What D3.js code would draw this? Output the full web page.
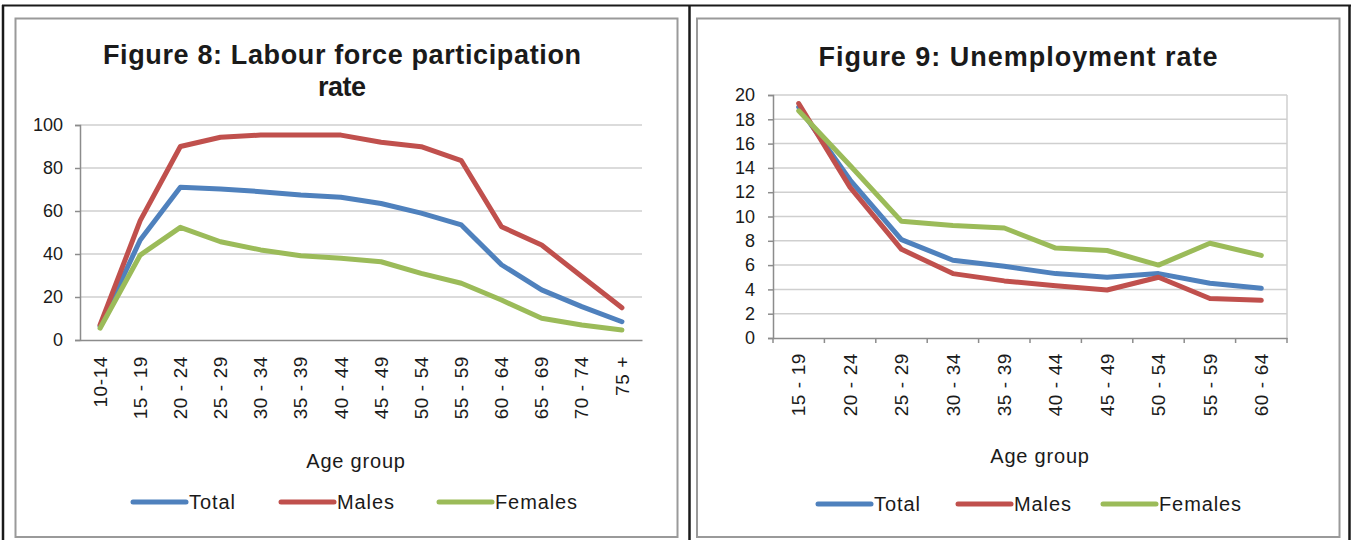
<!DOCTYPE html>
<html>
<head>
<meta charset="utf-8">
<script src="https://cdn.jsdelivr.net/npm/d3@7"></script>
<style>
  body { margin: 0; background: #fff; }
  svg text { font-family: "Liberation Sans", Arial, sans-serif; fill: #1a1a1a; }
</style>
</head>
<body>
<svg id="chart" width="1351" height="540"></svg>
<script>
// ---- data ----
var ageGroups8 = ["10-14", "15 - 19", "20 - 24", "25 - 29", "30 - 34", "35 - 39", "40 - 44",
                  "45 - 49", "50 - 54", "55 - 59", "60 - 64", "65 - 69", "70 - 74", "75 +"];
var lfprTotal   = [6.5, 46.5, 71, 70.2, 69, 67.4, 66.4, 63.5, 59, 53.5, 35, 23.3, 15.5, 8.5];
var lfprMales   = [7, 55.5, 90, 94.3, 95.3, 95.3, 95.3, 92, 89.9, 83.4, 52.7, 44.2, 29.5, 15];
var lfprFemales = [5.5, 39.5, 52.4, 45.7, 41.9, 39.2, 38, 36.4, 31, 26.4, 18.6, 10.1, 7, 4.7];

var ageGroups9 = ["15 - 19", "20 - 24", "25 - 29", "30 - 34", "35 - 39",
                  "40 - 44", "45 - 49", "50 - 54", "55 - 59", "60 - 64"];
var unempTotal   = [19.0, 13.0, 8.1, 6.4, 5.9, 5.3, 5.0, 5.3, 4.5, 4.1];
var unempMales   = [19.3, 12.4, 7.3, 5.3, 4.7, 4.3, 3.95, 5.0, 3.25, 3.1];
var unempFemales = [18.7, 14.2, 9.6, 9.25, 9.05, 7.4, 7.2, 6.0, 7.8, 6.8];

var yTicks8 = [0, 20, 40, 60, 80, 100];
var yTicks9 = [0, 2, 4, 6, 8, 10, 12, 14, 16, 18, 20];

var seriesNames = ["Total", "Males", "Females"];
var seriesColors = ["#4F81BD", "#C0504D", "#9BBB59"];

var svg = d3.select("#chart");

// ---- frames: black outer lines and grey chart areas ----
var frame = svg.append("g");
frame.append("line").attr("x1", 2).attr("x2", 1351).attr("y1", 5.5).attr("y2", 5.5)
  .attr("stroke", "#1a1a1a").attr("stroke-width", 2);
[3, 689.5, 1349.5].forEach(function(x){
  frame.append("line").attr("x1", x).attr("x2", x).attr("y1", 5).attr("y2", 540)
    .attr("stroke", "#1a1a1a").attr("stroke-width", 2.5);
});
[[15.5, 677.5], [697, 1339.5]].forEach(function(r){
  frame.append("rect").attr("x", r[0]).attr("y", 18.5)
    .attr("width", r[1]-r[0]).attr("height", 537-18.5)
    .attr("fill", "none").attr("stroke", "#9a9a9a").attr("stroke-width", 2);
});

/////////////////////////////////////////////
// one line chart panel
function drawPanel(cfg){
  var g = svg.append("g");

  var x = d3.scaleBand().domain(cfg.categories).range(cfg.xRange);
  var y = d3.scaleLinear().domain(cfg.yDomain).range(cfg.yRange);

  // gridlines
  g.append("g").selectAll("line").data(cfg.yTicks.slice(1)).join("line")
    .attr("x1", cfg.xRange[0]).attr("x2", cfg.xRange[1])
    .attr("y1", function(d){return y(d);}).attr("y2", function(d){return y(d);})
    .attr("stroke", "#cfcfcf").attr("stroke-width", 1.5);

  if (cfg.rightBorder) {
    g.append("line").attr("x1", cfg.xRange[1]).attr("x2", cfg.xRange[1])
      .attr("y1", cfg.yRange[1]).attr("y2", cfg.yRange[0])
      .attr("stroke", "#cfcfcf").attr("stroke-width", 1.5);
  }

  // y axis
  var yAxis = d3.axisLeft(y).tickValues(cfg.yTicks).tickSize(5).tickPadding(cfg.yPad)
    .tickFormat(d3.format("d"));
  var ya = g.append("g").attr("transform", "translate(" + cfg.xRange[0] + ",0)").call(yAxis);
  ya.select(".domain").attr("stroke", "#8c8c8c").attr("stroke-width", 1.5);
  ya.selectAll(".tick line").attr("stroke", "#8c8c8c").attr("stroke-width", 1.5);
  ya.selectAll(".tick text").style("font-size", "18px").attr("fill", "#1a1a1a");

  // x axis
  var xAxis = d3.axisBottom(x).tickSize(0).tickSizeOuter(0).tickPadding(0);
  var xa = g.append("g").attr("transform", "translate(0," + cfg.yRange[0] + ")").call(xAxis);
  xa.select(".domain").attr("stroke", "#8c8c8c").attr("stroke-width", 1.5);
  xa.selectAll(".tick text")
    .style("font-size", "19px").style("letter-spacing", "0.6px").attr("fill", "#1a1a1a")
    .attr("text-anchor", "end")
    .attr("transform", "rotate(-90)")
    .attr("x", -cfg.xLabelGap).attr("y", 0).attr("dy", "0.35em");

  if (cfg.xTicks) {
    var edges = cfg.categories.map(function(c){return x(c);}).concat([cfg.xRange[1]]);
    g.append("g").selectAll("line").data(edges).join("line")
      .attr("x1", function(d){return d;}).attr("x2", function(d){return d;})
      .attr("y1", cfg.yRange[0]).attr("y2", cfg.yRange[0] + 5)
      .attr("stroke", "#8c8c8c").attr("stroke-width", 1.5);
  }

  // lines
  var line = d3.line()
    .x(function(d, i){return x(cfg.categories[i]) + x.bandwidth()/2;})
    .y(function(d){return y(d);});
  cfg.series.forEach(function(s, i){
    g.append("path").datum(s)
      .attr("d", line)
      .attr("fill", "none")
      .attr("stroke", seriesColors[i])
      .attr("stroke-width", 5)
      .attr("stroke-linejoin", "round")
      .attr("stroke-linecap", "round");
  });

  // title, one text per line so each can be fitted to the reference width
  cfg.title.forEach(function(s, i){
    g.append("text").attr("x", cfg.titleX).attr("y", cfg.titleY + i * 32)
      .attr("text-anchor", "middle")
      .attr("textLength", cfg.titleWidths[i]).attr("lengthAdjust", "spacing")
      .style("font-size", "27px").style("font-weight", "bold").text(s);
  });

  // axis title
  g.append("text").attr("x", cfg.axisTitleX).attr("y", cfg.axisTitleY)
    .attr("text-anchor", "middle").style("font-size", "20px").style("letter-spacing", "0.8px")
    .text("Age group");

  // legend
  seriesNames.forEach(function(name, i){
    var lx = cfg.legendX[i];
    g.append("line").attr("x1", lx).attr("x2", lx + 53)
      .attr("y1", cfg.legendY).attr("y2", cfg.legendY)
      .attr("stroke", seriesColors[i]).attr("stroke-width", 5).attr("stroke-linecap", "round");
    g.append("text").attr("x", lx + 56).attr("y", cfg.legendY).attr("dy", "0.35em")
      .style("font-size", "20px").style("letter-spacing", "0.9px").text(name);
  });
}

drawPanel({
  categories: ageGroups8,
  series: [lfprTotal, lfprMales, lfprFemales],
  yTicks: yTicks8, yDomain: [0, 100],
  xRange: [80, 642], yRange: [340, 125],
  yPad: 12, xLabelGap: 16, xTicks: false, rightBorder: false,
  title: ["Figure 8: Labour force participation", "rate"], titleWidths: [478, 48],
  titleX: 342, titleY: 64,
  axisTitleX: 356, axisTitleY: 468,
  legendX: [133, 281, 439], legendY: 502
});

drawPanel({
  categories: ageGroups9,
  series: [unempTotal, unempMales, unempFemales],
  yTicks: yTicks9, yDomain: [0, 20],
  xRange: [773, 1287], yRange: [338, 95],
  yPad: 13, xLabelGap: 15, xTicks: true, rightBorder: true,
  title: ["Figure 9: Unemployment rate"], titleWidths: [399],
  titleX: 1018, titleY: 66,
  axisTitleX: 1040, axisTitleY: 463,
  legendX: [818, 958, 1103], legendY: 504
});
</script>
</body>
</html>
